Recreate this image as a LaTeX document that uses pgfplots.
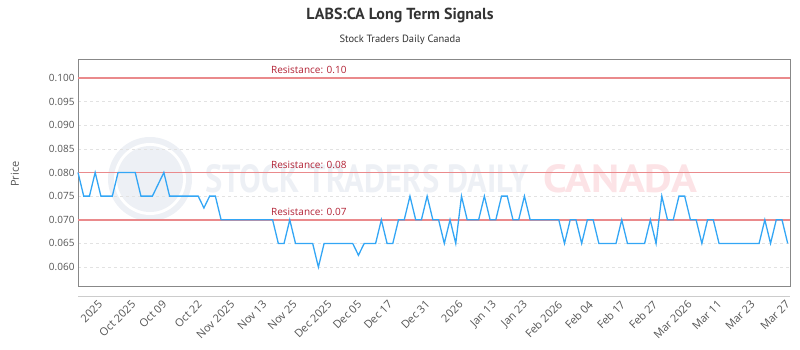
\documentclass[border=0pt]{standalone}
\usepackage{pgfplots}
\pgfplotsset{compat=1.18}
\usepackage{pgfplotstable}
\usepackage{fontspec}
\setmainfont{Open Sans}
\newfontfamily\titlefont{PT Sans}
\definecolor{lineblue}{HTML}{33A6F5}
\definecolor{resline}{HTML}{EA8A8C}
\definecolor{restext}{HTML}{B22235}
\definecolor{ticktext}{HTML}{555555}
\definecolor{framegray}{HTML}{888888}
\definecolor{gridgray}{HTML}{E2E2E2}
\definecolor{wmgray}{HTML}{EDF0F5}
\definecolor{wmpink}{HTML}{FCE3E6}
\definecolor{titlecol}{HTML}{333333}

\pgfplotstableread{
x y
0 0.080
1 0.075
2 0.075
3 0.080
4 0.075
5 0.075
6 0.075
7 0.080
8 0.080
9 0.080
10 0.080
11 0.075
12 0.075
13 0.075
14 0.0775
15 0.080
16 0.075
17 0.075
18 0.075
19 0.075
20 0.075
21 0.075
22 0.0725
23 0.075
24 0.075
25 0.070
26 0.070
27 0.070
28 0.070
29 0.070
30 0.070
31 0.070
32 0.070
33 0.070
34 0.070
35 0.065
36 0.065
37 0.070
38 0.065
39 0.065
40 0.065
41 0.065
42 0.060
43 0.065
44 0.065
45 0.065
46 0.065
47 0.065
48 0.065
49 0.0625
50 0.065
51 0.065
52 0.065
53 0.070
54 0.065
55 0.065
56 0.070
57 0.070
58 0.075
59 0.070
60 0.070
61 0.075
62 0.070
63 0.070
64 0.065
65 0.070
66 0.065
67 0.075
68 0.070
69 0.070
70 0.070
71 0.075
72 0.070
73 0.070
74 0.075
75 0.075
76 0.070
77 0.070
78 0.075
79 0.070
80 0.070
81 0.070
82 0.070
83 0.070
84 0.070
85 0.065
86 0.070
87 0.070
88 0.065
89 0.070
90 0.070
91 0.065
92 0.065
93 0.065
94 0.065
95 0.070
96 0.065
97 0.065
98 0.065
99 0.065
100 0.070
101 0.065
102 0.075
103 0.070
104 0.070
105 0.075
106 0.075
107 0.070
108 0.070
109 0.065
110 0.070
111 0.070
112 0.065
113 0.065
114 0.065
115 0.065
116 0.065
117 0.065
118 0.065
119 0.065
120 0.070
121 0.065
122 0.070
123 0.070
124 0.065
}\pricedata

\begin{document}
\begin{tikzpicture}[x=1pt,y=1pt]
\path (0,0) rectangle (800,350);
% watermark
\fill[wmgray] (150,171) circle (42);
\fill[white] (150,171) circle (36);
\fill[wmgray] (150,171) circle (33);
\node[text=wmgray, anchor=south west, inner sep=0pt] at (205,157) {\resizebox{323pt}{28pt}{\titlefont\bfseries STOCK TRADERS DAILY}};
\node[text=wmpink, anchor=south west, inner sep=0pt] at (543,157) {\resizebox{154pt}{28pt}{\titlefont\bfseries CANADA}};
% titles
\node[text=titlecol, font=\titlefont\bfseries\fontsize{16}{18}\selectfont] at (400,335) {LABS:CA Long Term Signals};
\node[text=titlecol, font=\titlefont\fontsize{10.5}{12}\selectfont] at (400,310) {Stock Traders Daily Canada};
\node[text=ticktext, rotate=90, font=\fontsize{11}{12}\selectfont] at (15,176) {Price};
\draw[gray!40, line width=0.8pt] (78,54) -- (790,54);
\begin{axis}[
  at={(78pt,64pt)}, anchor=south west,
  scale only axis, width=712pt, height=227pt,
  xmin=0, xmax=124.4, ymin=0.056, ymax=0.104,
  axis line style={framegray, line width=0.8pt},
  major tick length=0pt,
  ytick={0.060,0.065,0.070,0.075,0.080,0.085,0.090,0.095,0.100},
  scaled y ticks=false,
  /pgf/number format/assume math mode=true,
  yticklabel style={/pgf/number format/fixed, /pgf/number format/fixed zerofill, /pgf/number format/precision=3},
  yticklabel style={font=\fontsize{10}{11}\selectfont, text=ticktext},
  ymajorgrids, grid style={dashed, gridgray, line width=0.6pt},
  xtick={3.4,9.2,14.6,20.8,26.5,32.1,37.4,43.5,48.7,54.1,60.6,66.4,72.2,77.6,83.7,89.1,94.7,100.3,106.4,111.6,117.4,123.5},
  xticklabels={2025,Oct 2025,Oct 09,Oct 22,Nov 2025,Nov 13,Nov 25,Dec 2025,Dec 05,Dec 17,Dec 31,2026,Jan 13,Jan 23,Feb 2026,Feb 04,Feb 17,Feb 27,Mar 2026,Mar 11,Mar 23,Mar 27},
  xticklabel style={rotate=45, anchor=north east, font=\fontsize{11}{12}\selectfont, text=ticktext, inner sep=1pt},
  xticklabel shift=12pt,
  clip=false,
]
\addplot[resline, line width=1.8pt] coordinates {(0,0.100) (124.4,0.100)};
\addplot[resline, line width=1.8pt] coordinates {(0,0.080) (124.4,0.080)};
\addplot[resline, line width=1.8pt] coordinates {(0,0.070) (124.4,0.070)};
\addplot[lineblue, line width=1.3pt, no markers] table[x=x, y=y] {\pricedata};
\node[text=restext, anchor=south west, inner sep=0pt, font=\fontsize{10}{11}\selectfont] at (axis cs:33.7,0.1008) {Resistance: 0.10};
\node[text=restext, anchor=south west, inner sep=0pt, font=\fontsize{10}{11}\selectfont] at (axis cs:33.7,0.0808) {Resistance: 0.08};
\node[text=restext, anchor=south west, inner sep=0pt, font=\fontsize{10}{11}\selectfont] at (axis cs:33.7,0.0708) {Resistance: 0.07};
\end{axis}
\end{tikzpicture}
\end{document}
